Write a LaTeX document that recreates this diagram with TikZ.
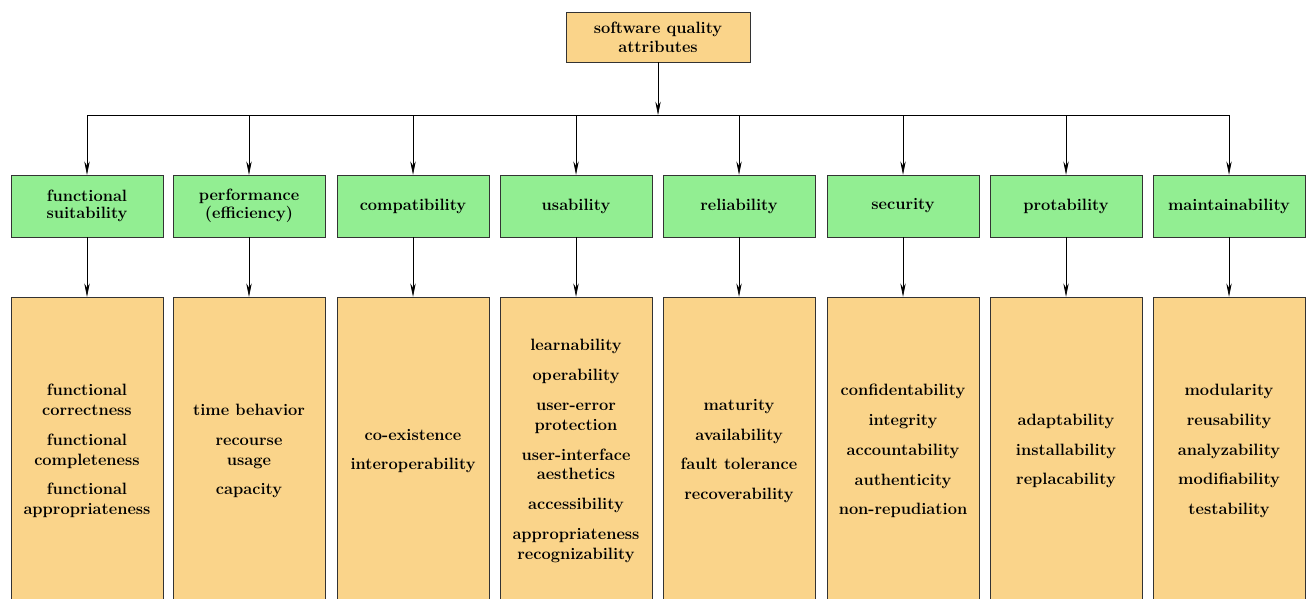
\documentclass[tikz,border=0pt]{standalone}
\usetikzlibrary{arrows.meta}

\definecolor{attrorange}{RGB}{250,212,138}
\definecolor{attrgreen}{RGB}{146,238,146}

\begin{document}
\begin{tikzpicture}[
		font = \bfseries\fontsize{14}{17}\selectfont,
		link/.style = {draw = black, line width = .5pt,
			-{Stealth[length=4mm, width=1.6mm]}}]

\useasboundingbox (0,0) rectangle (39.21,-17.94);
\clip (0,0) rectangle (39.21,-17.94);

% Nodo raiz
\node (root) [draw = black!80, fill = attrorange, align = center,
	minimum width = 5.52cm, minimum height = 1.5cm,
	font = \bfseries\fontsize{14}{16}\selectfont]
	at (19.74,-1.11) {software quality\\attributes};
\coordinate (bus) at (19.74,-3.45);

% Nodos categorias
\begin{scope}[
		every node/.style = {draw = black!80, fill = attrgreen, align = center,
		minimum width = 4.56cm, minimum height = 1.86cm,
		font = \bfseries\fontsize{14}{15}\selectfont}]
	\node (fs) at (2.61,-6.18) {functional\\suitability};
	\node (pe) at (7.47,-6.18) {performance\\(efficiency)};
	\node (co) at (12.39,-6.18) {compatibility};
	\node (us) at (17.28,-6.18) {usability};
	\node (re) at (22.17,-6.18) {reliability};
	\node (se) at (27.09,-6.18) {security};
	\node (pr) at (31.98,-6.18) {protability};
	\node (ma) at (36.87,-6.18) {maintainability};
\end{scope}

% Nodos detalles
\begin{scope}[
		every node/.style = {draw = black!80, fill = attrorange, align = center,
		minimum width = 4.56cm, minimum height = 9.24cm}]
	\node (fsD) at (2.61,-13.53) {functional\\correctness\\[8.5pt]
		functional\\completeness\\[8.5pt] functional\\appropriateness};
	\node (peD) at (7.47,-13.53) {time behavior\\[8.5pt] recourse\\usage\\[8.5pt]
		capacity};
	\node (coD) at (12.39,-13.53) {co-existence\\[8.5pt] interoperability};
	\node (usD) at (17.28,-13.53) {learnability\\[8.5pt] operability\\[8.5pt]
		user-error\\protection\\[8.5pt] user-interface\\aesthetics\\[8.5pt]
		accessibility\\[8.5pt] appropriateness\\recognizability};
	\node (reD) at (22.17,-13.53) {maturity\\[8.5pt] availability\\[8.5pt]
		fault tolerance\\[8.5pt] recoverability};
	\node (seD) at (27.09,-13.53) {confidentability\\[8.5pt] integrity\\[8.5pt]
		accountability\\[8.5pt] authenticity\\[8.5pt] non-repudiation};
	\node (prD) at (31.98,-13.53) {adaptability\\[8.5pt] installability\\[8.5pt]
		replacability};
	\node (maD) at (36.87,-13.53) {modularity\\[8.5pt] reusability\\[8.5pt]
		analyzability\\[8.5pt] modifiability\\[8.5pt] testability};
\end{scope}

% Paths
\draw[line width = .5pt] (fs |- bus) -- (ma |- bus);
\draw[link] (root) -- (bus);
\foreach \n in {fs, pe, co, us, re, se, pr, ma} {
	\draw[link] (\n |- bus) -- (\n);
	\draw[link] (\n) -- (\n D);
}
\end{tikzpicture}
\end{document}
